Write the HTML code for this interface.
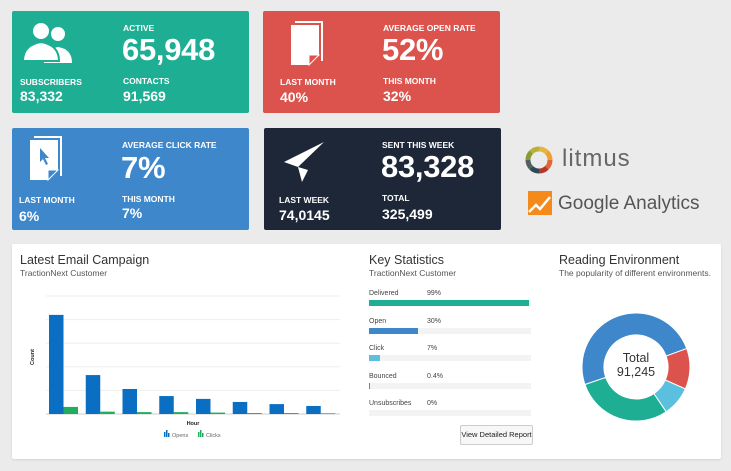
<!DOCTYPE html>
<html><head><meta charset="utf-8">
<style>
body{margin:0;width:731px;height:471px;background:#ebebeb;font-family:"Liberation Sans",Arial,sans-serif;position:relative;overflow:hidden}
.card{position:absolute;width:237px;height:102px;color:#fff;border-radius:2px}
.t{position:absolute;white-space:nowrap;font-weight:bold;line-height:1}
.lab{font-size:8.5px}
.big{font-size:31px;letter-spacing:-0.3px}
.val{font-size:14px}
.panel{position:absolute;left:12px;top:244px;width:709px;height:215px;background:#fff;border-radius:2px;box-shadow:0 1px 2px rgba(0,0,0,.1)}
.n{position:absolute;white-space:nowrap;color:#333}
</style></head><body>

<div class="card" style="left:12px;top:11px;background:#1eae93">
<svg style="position:absolute;left:10px;top:10px" width="55" height="45" viewBox="0 0 55 45"><g fill="#fff"><circle cx="36" cy="13" r="7"/><path d="M22 42 q0-14 14-16 q14 2 14 16z"/><circle cx="19" cy="10" r="9" stroke="#1eae93" stroke-width="2"/><path d="M1 40 q0-16 18-19 q18 3 18 19z" stroke="#1eae93" stroke-width="2"/></g></svg>
<div class="t lab" style="left:111px;top:13px">ACTIVE</div>
<div class="t big" style="left:110px;top:23px">65,948</div>
<div class="t lab" style="left:8px;top:67px">SUBSCRIBERS</div>
<div class="t val" style="left:8px;top:78px">83,332</div>
<div class="t lab" style="left:111px;top:66px">CONTACTS</div>
<div class="t val" style="left:111px;top:78px">91,569</div>
</div>

<div class="card" style="left:263px;top:11px;background:#dc524c">
<svg style="position:absolute;left:26px;top:8px" width="40" height="50" viewBox="0 0 40 50"><path d="M6 2h28v40h-2V4H6z" fill="#fff"/><path d="M2 6h28v30l-10 10H2z" fill="#fff"/><path d="M20 46l10-10H20z" fill="#dc524c" stroke="#fff"/></svg>
<div class="t lab" style="left:120px;top:13px">AVERAGE OPEN RATE</div>
<div class="t big" style="left:119px;top:23px">52%</div>
<div class="t lab" style="left:17px;top:67px">LAST MONTH</div>
<div class="t val" style="left:17px;top:79px">40%</div>
<div class="t lab" style="left:120px;top:66px">THIS MONTH</div>
<div class="t val" style="left:120px;top:78px">32%</div>
</div>

<div class="card" style="left:12px;top:128px;background:#3e87cb">
<svg style="position:absolute;left:16px;top:6px" width="40" height="50" viewBox="0 0 40 50"><path d="M6 2h28v40h-2V4H6z" fill="#fff"/><path d="M2 6h28v30l-10 10H2z" fill="#fff"/><path d="M20 46l10-10H20z" fill="#3e87cb" stroke="#fff"/><path d="M12 14l0 14 3-3 3 6 2-1-3-6 4 0z" fill="#3e87cb"/></svg>
<div class="t lab" style="left:110px;top:13px">AVERAGE CLICK RATE</div>
<div class="t big" style="left:109px;top:24px">7%</div>
<div class="t lab" style="left:7px;top:68px">LAST MONTH</div>
<div class="t val" style="left:7px;top:81px">6%</div>
<div class="t lab" style="left:110px;top:67px">THIS MONTH</div>
<div class="t val" style="left:110px;top:78px">7%</div>
</div>

<div class="card" style="left:264px;top:128px;background:#1e2738">
<svg style="position:absolute;left:18px;top:12px" width="44" height="44" viewBox="0 0 44 44"><path d="M42 2L2 22l14 5 4 15 6-12zM16 27l26-25-16 28" fill="#fff"/></svg>
<div class="t lab" style="left:118px;top:13px">SENT THIS WEEK</div>
<div class="t big" style="left:117px;top:23px">83,328</div>
<div class="t lab" style="left:15px;top:68px">LAST WEEK</div>
<div class="t val" style="left:15px;top:80px">74,0145</div>
<div class="t lab" style="left:118px;top:66px">TOTAL</div>
<div class="t val" style="left:118px;top:79px">325,499</div>
</div>

<svg style="position:absolute;left:524px;top:145px" width="30" height="30" viewBox="-15 -15 30 30">
<g stroke-width="5" fill="none">
<path d="M0,-11 A11,11 0 0,1 7.8,-7.8" stroke="#e4b53a"/><path d="M7.8,-7.8 A11,11 0 0,1 11,0" stroke="#f0a030"/>
<path d="M11,0 A11,11 0 0,1 7.8,7.8" stroke="#e0663a"/><path d="M7.8,7.8 A11,11 0 0,1 0,11" stroke="#b0392c"/>
<path d="M0,11 A11,11 0 0,1 -7.8,7.8" stroke="#2f4a54"/><path d="M-7.8,7.8 A11,11 0 0,1 -11,0" stroke="#526060"/>
<path d="M-11,0 A11,11 0 0,1 -7.8,-7.8" stroke="#8a9a3a"/><path d="M-7.8,-7.8 A11,11 0 0,1 0,-11" stroke="#b7b03a"/></g></svg>
<div class="n" style="left:562px;top:145px;font-size:24px;color:#666;letter-spacing:1px">litmus</div>
<svg style="position:absolute;left:528px;top:191px" width="24" height="24" viewBox="0 0 24 24"><rect width="24" height="24" fill="#f38a1b"/><path d="M1 21l7-7 4 4 10-12" stroke="#fff" stroke-width="2.5" fill="none"/></svg>
<div class="n" style="left:558px;top:193px;font-size:19px;color:#555">Google Analytics</div>

<div class="panel"></div>
<div class="n" style="left:20px;top:253px;font-size:12.5px">Latest Email Campaign</div>
<div class="n" style="left:20px;top:268px;font-size:8.5px;color:#555">TractionNext Customer</div>

<svg id="bar" style="position:absolute;left:0;top:0" width="360" height="471"></svg>

<div class="n" style="left:369px;top:253px;font-size:12.5px">Key Statistics</div>
<div class="n" style="left:369px;top:268px;font-size:8.5px;color:#555">TractionNext Customer</div>
<div id="stats"></div>
<div class="n" style="left:460px;top:425px;width:71px;height:18px;border:1px solid #ccc;border-radius:2px;background:#f7f7f7;font-size:7.5px;line-height:18px;text-align:center;color:#222">View Detailed Report</div>

<div class="n" style="left:559px;top:253px;font-size:12.5px">Reading Environment</div>
<div class="n" style="left:559px;top:268px;font-size:8.5px;color:#555">The popularity of different environments.</div>
<svg id="donut" style="position:absolute;left:575px;top:306px" width="122" height="122"></svg>
<div class="n" style="left:595px;top:351px;width:82px;text-align:center;font-size:12.5px;line-height:14px">Total<br>91,245</div>

<script>
const hours=[1,2,3,4,5,6,7,8];
const opens=[420,165,106,76,64,51,42,34];
const clicks=[30,10,8,8,6,4,4,3];
const yTicks=[0,100,200,300,400,500];
const statLabels=["Delivered","Open","Click","Bounced","Unsubscribes"];
const statValues=[99,30,7,0.4,0];
const statPrinted=["99%","30%","7%","0.4%","0%"];
const statColors=["#1eae93","#3e87cb","#5bc0de","#1eae93","#1eae93"];
const envLabels=["Desktop","Webmail","Mobile","Other"];
const envValues=[29.2,49.7,12.2,8.9];
const envColors=["#1eae93","#3e87cb","#dc524c","#5bc0de"];

const NS="http://www.w3.org/2000/svg";
function mk(p,tag,a){const e=document.createElementNS(NS,tag);for(const k in a)e.setAttribute(k,a[k]);p.appendChild(e);return e;}
const bar=document.getElementById('bar');
const x0=46,x1=340,yb=414,yt=296,ymax=500;
const y=v=>yb-(v/ymax)*(yb-yt);
const gw=(x1-x0)/hours.length;
const xg=i=>x0+3+i*gw;
yTicks.forEach(t=>{const l=mk(bar,'line',{x1:x0,x2:x1,y1:y(t),y2:y(t),stroke:t==0?'#ccc':'#eee','stroke-width':1});

});
hours.forEach((h,i)=>{
const b=mk(bar,'rect',{x:xg(i),y:y(opens[i]),width:14.5,height:yb-y(opens[i]),fill:'#0a6fc2'});


const c=mk(bar,'rect',{x:xg(i)+14.5,y:y(clicks[i]),width:14.5,height:yb-y(clicks[i]),fill:'#1fae5e'});


});
let tx=mk(bar,'text',{x:193,y:425,'font-size':5.5,'font-weight':'bold','text-anchor':'middle',fill:'#222'});tx.textContent='Hour';


tx=mk(bar,'text',{x:0,y:0,'font-size':5.5,'font-weight':'bold','text-anchor':'middle',fill:'#222',transform:'translate(34,357) rotate(-90)'});tx.textContent='Count';


[['Opens','#0a6fc2',164],['Clicks','#1fae5e',198]].forEach(([n,c,lx])=>{
const g=mk(bar,'g',{});


mk(g,'rect',{x:lx,y:432,width:1.5,height:5,fill:c});mk(g,'rect',{x:lx+2,y:430,width:1.5,height:7,fill:c});mk(g,'rect',{x:lx+4,y:433,width:1.5,height:4,fill:c});
const t=mk(g,'text',{x:lx+8,y:437,'font-size':5.5,fill:'#666'});t.textContent=n;});

const st=document.getElementById('stats');
statLabels.forEach((l,i)=>{
const top=290+i*27.5;
const d=document.createElement('div');


d.style.cssText='position:absolute;left:369px;top:'+top+'px;width:163px;height:20px;font-size:7px;color:#444';
d.innerHTML='<span style="position:absolute;left:0;top:0">'+l+'</span><span style="position:absolute;left:58px;top:0">'+statPrinted[i]+'</span><div style="position:absolute;left:0;top:10px;width:162px;height:6px;background:#f3f3f3"><div style="width:'+(statValues[i]/100*162)+'px;height:6px;background:'+statColors[i]+'"></div></div>';
st.appendChild(d);});

const dn=document.getElementById('donut');
const cx=61,cy=61,R=54,r=32;
const tot=envValues.reduce((a,b)=>a+b,0);
let ang=56*Math.PI/180;
envValues.forEach((v,i)=>{
const a2=ang+v/tot*2*Math.PI,lg=(a2-ang)>Math.PI?1:0;
const p=(rr,a)=>[cx+rr*Math.cos(a),cy+rr*Math.sin(a)];
const [a,b]=p(R,ang),[c,d]=p(R,a2),[e,f]=p(r,a2),[g,h]=p(r,ang);
const s=mk(dn,'path',{d:`M${a},${b}A${R},${R} 0 ${lg} 1 ${c},${d}L${e},${f}A${r},${r} 0 ${lg} 0 ${g},${h}Z`,fill:envColors[i],stroke:'#fff','stroke-width':1});


ang=a2;});
</script>
</body></html>
